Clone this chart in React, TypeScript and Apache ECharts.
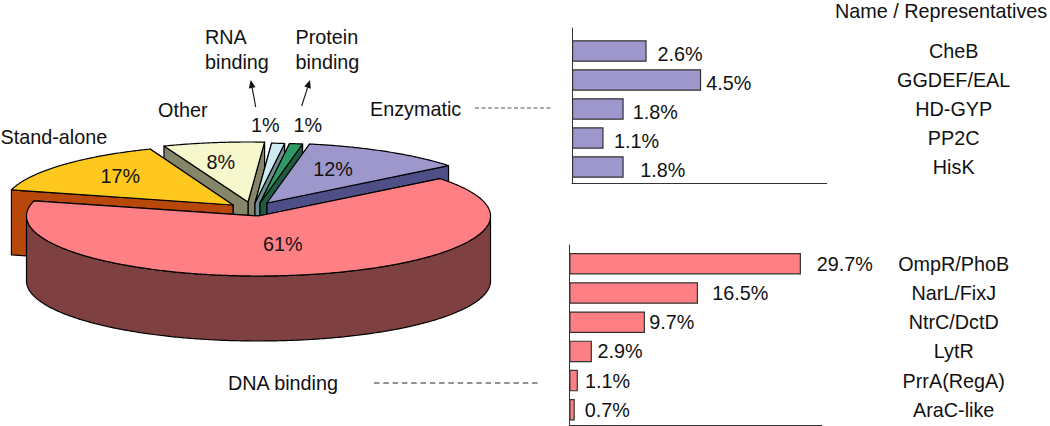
import React, { useEffect, useRef } from "react";
import * as echarts from "echarts";

// ---- data ----
const sliceNames = ["Enzymatic", "Protein binding", "RNA binding", "Other", "Stand-alone", "DNA binding"];
const sliceValues = [12, 1, 1, 8, 17, 61];
const sliceDrawOrder = [3, 2, 1, 0, 4, 5];

const enzymaticNames = ["CheB", "GGDEF/EAL", "HD-GYP", "PP2C", "HisK"];
const enzymaticValues = [2.6, 4.5, 1.8, 1.1, 1.8];
const dnaNames = ["OmpR/PhoB", "NarL/FixJ", "NtrC/DctD", "LytR", "PrrA(RegA)", "AraC-like"];
const dnaValues = [29.7, 16.5, 9.7, 2.9, 1.1, 0.7];

// ---- styling and layout, kept apart from the data ----
const FONT = "'Liberation Sans', Arial, sans-serif";
const FS = 19.8;
const INK = "#111111";
const BAR_STROKE = "#333333";
const PURPLE = "#9d97cc";
const RED = "#ff8084";

const enzymaticGaps = [11, 5, 9, 10.5, 16.5];
const dnaGaps = [15.7, 14.3, 4.3, 5.7, 7, 10];

const RY = 60;
const DEPTH = 65;
const START_DEG = 55;
// pie seen in perspective: how a true angle lands on the drawn ellipse
const WARP_B = 4;
const WARP_C = -6.37;
const rad = (d: number) => (d * Math.PI) / 180;
const projected = (phi: number) => phi + WARP_B * (1 - Math.cos(rad(phi))) + WARP_C * Math.sin(rad(phi));

const sliceLook: Record<string, any> = {
  Enzymatic: { apex: [267, 203], rx: 232, top: "#9d97cc", wall: "#4f4f88", labelR: [0.56, 0.657] },
  "Protein binding": { apex: [260, 203], rx: 232, top: "#2f9a66", wall: "#1d5c40" },
  "RNA binding": { apex: [255, 203], rx: 232, top: "#cdebf0", wall: "#6f8c90" },
  Other: { apex: [248, 202], rx: 232, top: "#f6f7cd", wall: "#85856a", labelR: [0.78, 0.675] },
  "Stand-alone": { apex: [233, 205], rx: 229, top: "#ffc81e", wall: "#b8470a", labelR: [0.663, 0.72] },
  "DNA binding": { apex: [258.5, 216], rx: 232, top: "#ff8084", wall: "#7f4041", labelR: [0.67, 0.47] },
};

function renderSlice(_params: any, api: any) {
  const value = api.value(0) as number;
  const index = api.value(1) as number;
  let before = 0;
  for (let i = 0; i < index; i++) before += sliceValues[i];
  const phiA = START_DEG - before * 3.6;
  const phiB = phiA - value * 3.6;
  const look = sliceLook[sliceNames[index]];
  const [ax, ay] = look.apex;
  const RX = look.rx;
  const at = (phi: number) => {
    const p = rad(projected(phi));
    return [ax + RX * Math.sin(p), ay - RY * Math.cos(p)];
  };
  const arc: number[][] = [];
  const steps = Math.max(2, Math.ceil((phiA - phiB) * 2));
  for (let s = 0; s <= steps; s++) arc.push(at(phiB + ((phiA - phiB) * s) / steps));

  const lineStyle = (fill: string) => ({ fill, stroke: "#000", lineWidth: 1.2, lineJoin: "round" });
  const children: any[] = [];

  // the two cut faces, the one nearer the front last
  const ends = [arc[0], arc[arc.length - 1]].sort(
    (p, q) => Math.abs(p[0] - ax) - Math.abs(q[0] - ax)
  );
  ends.forEach((e) => {
    children.push({
      type: "polygon",
      shape: { points: [[ax, ay], e, [e[0], e[1] + DEPTH], [ax, ay + DEPTH]] },
      style: lineStyle(look.wall),
    });
  });
  // the outer wall where the rim faces the viewer
  const rim = arc.filter((p) => p[1] >= ay);
  if (rim.length > 1) {
    const lower = rim.map((p) => [p[0], p[1] + DEPTH]).reverse();
    children.push({
      type: "polygon",
      shape: { points: rim.concat(lower) },
      style: lineStyle(look.wall),
    });
  }
  // top face
  children.push({
    type: "polygon",
    shape: { points: [[ax, ay], ...arc] },
    style: lineStyle(look.top),
  });
  if (look.labelR) {
    const mid = rad(projected((phiA + phiB) / 2));
    children.push({
      type: "text",
      style: {
        text: `${value}%`,
        x: ax + RX * look.labelR[0] * Math.sin(mid),
        y: ay - RY * look.labelR[1] * Math.cos(mid),
        align: "center",
        verticalAlign: "middle",
        fontSize: FS,
        fontFamily: FONT,
        fill: INK,
      },
    });
  }
  return { type: "group", children };
}

function label(text: string, x: number, y: number, extra: any = {}) {
  return {
    type: "text",
    silent: true,
    style: { text, x, y, verticalAlign: "middle", fontSize: FS, fontFamily: FONT, fill: INK, ...extra },
  };
}

function arrow(x1: number, y1: number, x2: number, y2: number) {
  const L = Math.hypot(x2 - x1, y2 - y1);
  const ux = (x2 - x1) / L;
  const uy = (y2 - y1) / L;
  const head = 8;
  const half = 3.4;
  const bx = x2 - ux * head;
  const by = y2 - uy * head;
  return [
    { type: "line", silent: true, shape: { x1, y1, x2: bx, y2: by }, style: { stroke: "#111", lineWidth: 1.1 } },
    {
      type: "polygon",
      silent: true,
      shape: {
        points: [
          [x2, y2],
          [bx - uy * half, by + ux * half],
          [bx + uy * half, by - ux * half],
        ],
      },
      style: { fill: "#111" },
    },
  ];
}

function dashed(x1: number, x2: number, y: number, dash: number[], stroke: string) {
  return {
    type: "line",
    silent: true,
    shape: { x1, y1: y, x2, y2: y },
    style: { stroke, lineWidth: 1, lineDash: dash },
  };
}

const hiddenAxisParts = { axisTick: { show: false }, splitLine: { show: false } };
const axisLine = { show: true, lineStyle: { color: "#333", width: 1 } };

function axesOnly(gridIndex: number, max: number) {
  return {
    x: { type: "value", gridIndex, min: 0, max, axisLine, axisLabel: { show: false }, ...hiddenAxisParts },
    y: { type: "value", gridIndex, min: 0, max: 1, axisLine, axisLabel: { show: false }, ...hiddenAxisParts },
  };
}

function barAxes(gridIndex: number, max: number, names: string[], margin: number) {
  return {
    x: { type: "value", gridIndex, min: 0, max, show: false },
    y: {
      type: "category",
      gridIndex,
      data: names,
      inverse: true,
      position: "right",
      axisLine: { show: false },
      axisTick: { show: false },
      splitLine: { show: false },
      axisLabel: {
        margin,
        align: "center",
        interval: 0,
        fontSize: FS,
        fontFamily: FONT,
        color: INK,
      },
    },
  };
}

function barSeries(axisIndex: number, values: number[], gaps: number[], color: string, dy: number, w: number) {
  return {
    type: "bar",
    xAxisIndex: axisIndex,
    yAxisIndex: axisIndex,
    barWidth: w,
    itemStyle: { color, borderColor: BAR_STROKE, borderWidth: 1.2 },
    label: {
      show: true,
      position: "right",
      formatter: "{c}%",
      offset: [0, dy],
      fontSize: FS,
      fontFamily: FONT,
      color: INK,
    },
    data: values.map((v, i) => ({ value: v, label: { distance: gaps[i] } })),
  };
}

export default function App() {
  const ref = useRef<HTMLDivElement>(null);
  useEffect(() => {
    document.body.style.margin = "0";
    const chart = echarts.init(ref.current!, undefined, { renderer: "svg" });
    const upperMax = 254.7 / 28.7;
    const lowerMax = 252.4 / 7.8;
    const a0 = axesOnly(0, upperMax);
    const a1 = barAxes(1, upperMax, enzymaticNames, 127);
    const a2 = axesOnly(2, lowerMax);
    const a3 = barAxes(3, lowerMax, dnaNames, 132);
    chart.setOption({
      animation: false,
      backgroundColor: "#ffffff",
      grid: [
        { left: 572, top: 28, width: 254.7, height: 155 },
        { left: 572, top: 36.5, width: 254.7, height: 145 },
        { left: 569.3, top: 245, width: 252.4, height: 180 },
        { left: 569.3, top: 249.2, width: 252.4, height: 175.2 },
      ],
      xAxis: [a0.x, a1.x, a2.x, a3.x],
      yAxis: [a0.y, a1.y, a2.y, a3.y],
      series: [
        {
          type: "custom",
          coordinateSystem: "none",
          silent: true,
          clip: false,
          renderItem: renderSlice,
          data: sliceDrawOrder.map((i) => ({ name: sliceNames[i], value: [sliceValues[i], i] })),
        },
        barSeries(1, enzymaticValues, enzymaticGaps, PURPLE, 2.5, 21.5),
        barSeries(3, dnaValues, dnaGaps, RED, 0, 21.5),
      ],
      graphic: [
        label("Name / Representatives", 835, 11),
        label("RNA", 205, 37),
        label("binding", 205, 62),
        label("Protein", 295.5, 37),
        label("binding", 295.5, 62),
        label("Other", 158, 110),
        label("Stand-alone", 0.5, 137),
        label("Enzymatic", 370, 109),
        label("1%", 251, 125),
        label("1%", 293.5, 125),
        label("DNA binding", 228, 383),
        dashed(475, 552, 108, [4, 2.5], "#555"),
        dashed(374, 540, 383, [5.5, 3.8], "#222"),
        ...arrow(255.7, 107, 250.7, 80),
        ...arrow(301.7, 106, 310, 80),
      ],
    });
    return () => chart.dispose();
  }, []);
  return <div ref={ref} style={{ width: 1050, height: 426 }} />;
}
